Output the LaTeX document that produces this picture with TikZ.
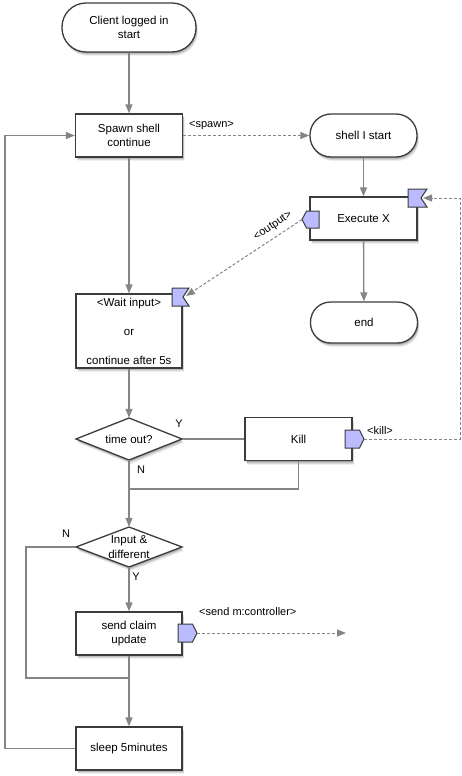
\documentclass[tikz,border=0pt]{standalone}
\usepackage{fontspec}
\setmainfont{Liberation Sans}
\usetikzlibrary{arrows.meta,shadows,calc}
\definecolor{ln}{HTML}{858585}
\definecolor{bd}{HTML}{3C3C3C}
\definecolor{pf}{HTML}{BBBBFF}
\begin{document}
\begin{tikzpicture}[x=1pt,y=-1pt,
  font=\fontsize{11.5}{14.5}\selectfont,
  shd/.style={drop shadow={shadow xshift=0.5pt,shadow yshift=-1pt,opacity=0.12,fill=black},
              drop shadow={shadow xshift=1pt,shadow yshift=-2pt,opacity=0.12,fill=black},
              drop shadow={shadow xshift=1.5pt,shadow yshift=-3pt,opacity=0.1,fill=black},
              drop shadow={shadow xshift=2pt,shadow yshift=-4pt,opacity=0.06,fill=black}},
  box/.style={draw=bd,line width=1.3pt,fill=white,minimum width=107pt,minimum height=43pt,inner sep=0pt,align=center,shd},
  term/.style={box,rounded corners=21pt},
  dia/.style={draw=bd,line width=1.3pt,fill=white,shd},
  dtext/.style={inner sep=0pt,align=center,minimum width=106pt},
  port/.style={draw=bd,line width=1pt,fill=pf},
  line/.style={draw=ln,line width=1.3pt},
  conn/.style={line,-{Triangle[length=9pt,width=7pt]}},
  dconn/.style={draw=ln,line width=1pt,dash pattern=on 3pt off 2pt,-{Triangle[length=9pt,width=7pt]}},
  lbl/.style={inner sep=0pt,font=\fontsize{11}{13}\selectfont},
]
\useasboundingbox (0,0) rectangle (461,776);

% main column
\node[term,minimum width=134pt,minimum height=49pt,rounded corners=24pt] (client) at (129,27.5) {Client logged in\\start};
\node[box] (spawn) at (129,135.5) {Spawn shell\\continue};
\node[box,minimum width=106pt,minimum height=74pt] (wait) at (129,331) {<Wait input>\\ \\or\\ \\continue after 5s};
\filldraw[dia] (129,418) -- (182,439) -- (129,460) -- (76,439) -- cycle;
\node[dtext,minimum height=42pt] (tmo) at (129,439) {time out?};
\filldraw[dia] (129,527) -- (182,547) -- (129,567) -- (76,547) -- cycle;
\node[dtext,minimum height=40pt] (inp) at (129,547) {Input \&\\different};
\node[box,minimum width=106pt] (send) at (129,633.5) {send claim\\update};
\node[box,minimum width=106pt] (sleep) at (129,748.5) {sleep 5minutes};

% right column
\node[term] (shell) at (363.5,135.5) {shell I start};
\node[box] (exec) at (363.5,218.5) {Execute X};
\node[term,minimum height=41pt,rounded corners=20pt] (endn) at (364,322.5) {end};
\node[box] (kill) at (298.5,439) {Kill};

% flags and ports
\filldraw[port] (408,189) -- (427,189) -- (421,198) -- (427,207) -- (408,207) -- cycle;
\coordinate (execflag) at (423,198);
\filldraw[port] (172,288) -- (189,288) -- (183,297) -- (189,306) -- (172,306) -- cycle;
\coordinate (waitflag) at (186,296);
\filldraw[port] (319,211) -- (306.5,211) -- (302,219.5) -- (306.5,228) -- (319,228) -- cycle;
\coordinate (execport) at (302,219.5);
\filldraw[port] (345,430) -- (359.5,430) -- (364,439) -- (359.5,448) -- (345,448) -- cycle;
\coordinate (killport) at (364,439);
\filldraw[port] (178,624) -- (192.5,624) -- (197,633) -- (192.5,642) -- (178,642) -- cycle;
\coordinate (sendport) at (197,633);

% helper coordinates
\coordinate (kr) at (460,439);
\coordinate (j1) at (129,489);
\coordinate (nl) at (26,678);
\coordinate (j2) at (129,678);
\coordinate (lb) at (5,748.5);
\coordinate (sendend) at (346,633);

% connectors
\draw[conn] (client) -- (spawn);
\draw[conn] (spawn) -- (wait);
\draw[dconn] (spawn) -- (shell);
\draw[conn] (shell) -- (exec);
\draw[conn] (exec) -- (endn);
\draw[dconn] (execport) -- (waitflag);
\draw[conn] (wait) -- (tmo.north);
\draw[line] (tmo.east) -- (kill.west);
\draw[dconn] (killport) -- (kr) |- (execflag);
\draw[line] (kill.south) |- (j1);
\draw[conn] (tmo.south) -- (inp.north);
\draw[line] (inp.west) -| (nl) -- (j2);
\draw[conn] (inp.south) -- (send.north);
\draw[conn] (send.south) -- (sleep.north);
\draw[dconn] (sendport) -- (sendend);
\draw[conn] (sleep.west) -- (lb) |- (spawn.west);

% labels
\node[lbl,anchor=west] (lspawn) at (189,125) {<spawn>};
\node[lbl,rotate=34] (loutput) at (273,226) {<output>};
\node[lbl,anchor=west] (lkill) at (367,431) {<kill>};
\node[lbl,anchor=west] (lsend) at (199,612) {<send m:controller>};
\node[lbl] (ly1) at (179,424) {Y};
\node[lbl] (ln1) at (141,470) {N};
\node[lbl] (ln2) at (66,534) {N};
\node[lbl] (ly2) at (136,577) {Y};
\end{tikzpicture}
\end{document}
